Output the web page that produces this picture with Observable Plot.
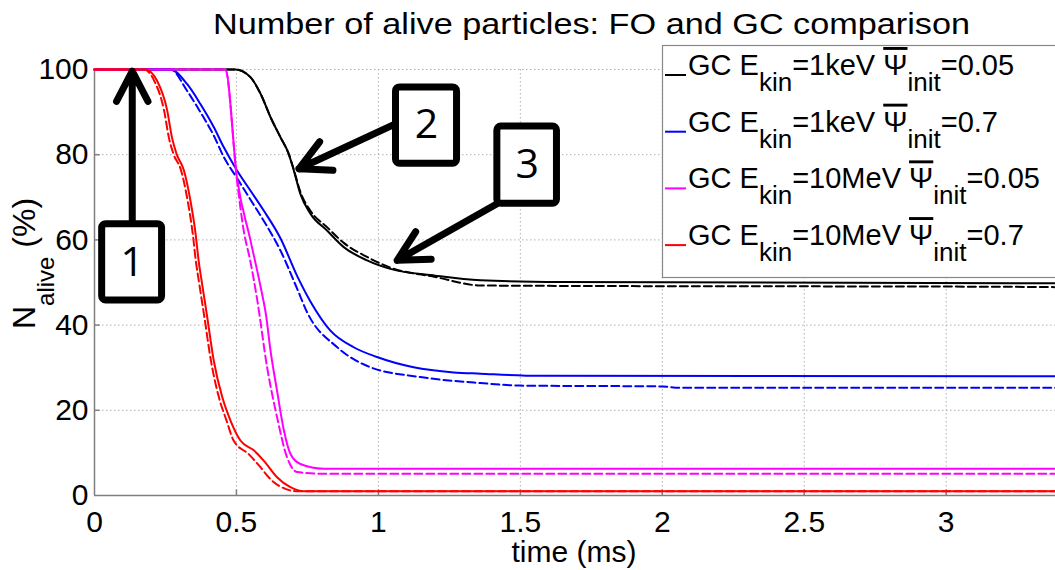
<!DOCTYPE html>
<html><head><meta charset="utf-8">
<script src="https://cdn.jsdelivr.net/npm/d3@7"></script>
<script src="https://cdn.jsdelivr.net/npm/@observablehq/plot@0.6"></script>
<style>
body{margin:0;background:#fff;overflow:hidden}
#wrap{position:relative;width:1055px;height:570px;overflow:hidden}
</style></head>
<body><div id="wrap"></div>
<script>
// ---- axes ----
const xTicks = [0, 0.5, 1, 1.5, 2, 2.5, 3];
const yTicks = [0, 20, 40, 60, 80, 100];
const titleText = "Number of alive particles: FO and GC comparison";
const xLabel = "time (ms)";

// ---- series (legend order) ----
const seriesColors = ["#000000", "#0000ff", "#ff00ff", "#ff0000"];
const seriesEkin = ["1keV", "1keV", "10MeV", "10MeV"];
const seriesPsi = ["0.05", "0.7", "0.05", "0.7"];

// black: GC Ekin=1keV psi=0.05
const blackSolidT = [0, 0.496, 0.549, 0.585, 0.62, 0.655, 0.684, 0.702, 0.725, 0.761, 0.819, 0.878, 0.96, 1.042, 1.2, 1.359, 1.64, 3.4];
const blackSolidV = [100, 100, 98.2, 94.3, 88.8, 84.1, 80.2, 76.3, 70.8, 66.1, 62.2, 58.3, 55.2, 53.2, 51.6, 50.5, 50.1, 49.8];
const blackDashT = [0, 0.496, 0.549, 0.585, 0.62, 0.655, 0.684, 0.702, 0.725, 0.761, 0.819, 0.878, 0.96, 1.042, 1.2, 1.36, 1.64, 3.2, 3.4];
const blackDashV = [100, 100, 98.2, 94.3, 88.8, 84.1, 80.2, 76.5, 71.3, 66.8, 63.0, 59.3, 56.0, 53.5, 51.3, 49.3, 49.2, 49.0, 48.9];
// blue: GC Ekin=1keV psi=0.7
const blueSolidT = [0, 0.268, 0.326, 0.373, 0.42, 0.455, 0.502, 0.549, 0.596, 0.655, 0.714, 0.761, 0.831, 0.913, 0.995, 1.124, 1.265, 1.359, 1.57, 3.4];
const blueSolidV = [100, 100, 96.6, 91.9, 86.5, 81.8, 76.3, 71.6, 66.9, 60.4, 51.5, 45.5, 38.7, 34.8, 32.5, 30.1, 28.9, 28.6, 28.1, 28.0];
const blueDashT = [0, 0.268, 0.326, 0.373, 0.42, 0.455, 0.502, 0.549, 0.596, 0.655, 0.714, 0.749, 0.855, 0.972, 1.148, 1.359, 1.5, 2.0, 2.06, 3.4];
const blueDashV = [100, 100, 95, 90, 84.5, 79.5, 74.5, 69.5, 64.5, 57.5, 48.5, 43.0, 34.8, 30.1, 27.8, 26.4, 25.8, 25.6, 25.3, 25.3];
// magenta: GC Ekin=10MeV psi=0.05
const magSolidT = [0, 0.461, 0.502, 0.549, 0.585, 0.605, 0.62, 0.643, 0.667, 0.69, 0.725, 0.807, 3.4];
const magSolidV = [100, 100, 74.5, 60, 49, 42, 34, 24.6, 15.3, 9.8, 7.4, 6.3, 6.3];
const magDashT = [0, 0.461, 0.502, 0.526, 0.549, 0.573, 0.608, 0.643, 0.678, 0.714, 0.8, 3.4];
const magDashV = [100, 100, 74, 62, 55, 46, 30.1, 18.4, 9, 5.5, 5.1, 5.1];
// red: GC Ekin=10MeV psi=0.7
const redSolidT = [0, 0.18, 0.22, 0.256, 0.273, 0.289, 0.315, 0.338, 0.356, 0.367, 0.379, 0.397, 0.42, 0.45, 0.479, 0.514, 0.561, 0.596, 0.643, 0.69, 0.737, 3.4];
const redSolidV = [100, 100, 97.4, 90.4, 84, 80.2, 76.3, 69.2, 61.5, 55, 49.7, 41.9, 31.7, 23.1, 17.6, 12.9, 10.6, 8.2, 4.3, 1.95, 1.0, 1.0];
const redDashT = [0, 0.175, 0.21, 0.245, 0.262, 0.278, 0.305, 0.328, 0.346, 0.357, 0.369, 0.387, 0.41, 0.438, 0.465, 0.49, 0.545, 0.58, 0.625, 0.675, 0.714, 3.4];
const redDashV = [100, 100, 97.4, 90.4, 84, 80.2, 76.3, 69.2, 61.5, 55, 49.7, 41.9, 31.7, 23.1, 17.6, 12.9, 9.6, 7.0, 3.5, 1.5, 1.0, 1.0];

// ---- annotations (data coordinates) ----
const boxLabels = ["1", "2", "3"];
const boxT1 = [0.027, 1.062, 1.419];
const boxT2 = [0.238, 1.277, 1.629];
const boxV1 = [45.8, 77.9, 68.5];
const boxV2 = [63.7, 95.8, 86.6];
const labelT = [0.133, 1.169, 1.524];
const labelV = [54.6, 86.9, 77.5];
const arrowT1 = [0.133, 1.060, 1.418];
const arrowV1 = [63.7, 87.25, 68.5];
const arrowT2 = [0.133, 0.720, 1.066];
const arrowV2 = [99.6, 76.7, 55.2];

const rows = (T, V) => T.map((t, i) => ({t, v: V[i]}));
const curves = [
  {T: blackDashT, V: blackDashV, c: 0, dash: true}, {T: blackSolidT, V: blackSolidV, c: 0, dash: false},
  {T: blueDashT, V: blueDashV, c: 1, dash: true}, {T: blueSolidT, V: blueSolidV, c: 1, dash: false},
  {T: magDashT, V: magDashV, c: 2, dash: true}, {T: magSolidT, V: magSolidV, c: 2, dash: false},
  {T: redDashT, V: redDashV, c: 3, dash: true}, {T: redSolidT, V: redSolidV, c: 3, dash: false}
];
const boxes = boxLabels.map((l, i) => ({l, x1: boxT1[i], x2: boxT2[i], y1: boxV1[i], y2: boxV2[i], lt: labelT[i], lv: labelV[i]}));
const arrows = arrowT1.map((t, i) => ({x1: t, y1: arrowV1[i], x2: arrowT2[i], y2: arrowV2[i]}));

const axisGray = "#7f7f7f";
const plot = Plot.plot({
  width: 1055, height: 570,
  marginLeft: 94, marginRight: 0, marginTop: 69, marginBottom: 75,
  x: {domain: [0, 3.385]},
  y: {domain: [0, 100]},
  style: {fontFamily: "'Liberation Sans', Arial, sans-serif", fontSize: "30px", color: "#000", background: "#fff", overflow: "visible"},
  marks: [
    Plot.gridX(xTicks.slice(1), {stroke: "#b0b0b0", strokeOpacity: 1, strokeDasharray: "1.5,2.5"}),
    Plot.gridY(yTicks.slice(1), {stroke: "#b0b0b0", strokeOpacity: 1, strokeDasharray: "1.5,2.5"}),
    Plot.ruleX([0], {stroke: axisGray, strokeWidth: 1.5}),
    Plot.ruleY([0], {stroke: axisGray, strokeWidth: 1.5}),
    Plot.ruleX(xTicks.slice(1), {x: d => d, y1: 0, y2: 1.3, stroke: axisGray, strokeWidth: 1.5}),
    Plot.ruleY(yTicks.slice(1), {y: d => d, x1: 0, x2: 0.02, stroke: axisGray, strokeWidth: 1.5}),
    Plot.axisX(xTicks, {tickSize: 0, tickPadding: 15, label: null, tickFormat: d => String(d), fill: "#000"}),
    Plot.axisY(yTicks, {tickSize: 0, tickPadding: 6, label: null, fill: "#000"}),
    ...curves.map(c => Plot.line(rows(c.T, c.V), {
      x: "t", y: "v", stroke: seriesColors[c.c], strokeWidth: 2, curve: "monotone-x",
      strokeDasharray: c.dash ? "8,4" : null
    })),
    Plot.arrow(arrows, {x1: "x1", y1: "y1", x2: "x2", y2: "y2", stroke: "#000", strokeWidth: 7, headLength: 7.3, headAngle: 55, strokeLinecap: "round", strokeLinejoin: "round"}),
    Plot.rect(boxes, {x1: "x1", x2: "x2", y1: "y1", y2: "y2", fill: "#fff", stroke: "#000", strokeWidth: 7, rx: 4}),
    Plot.text(boxes, {x: "lt", y: "lv", text: "l", fontSize: 41, fontFamily: "'Open Sans', sans-serif", fill: "#000"})
  ]
});
document.getElementById("wrap").appendChild(plot);

const svg = d3.select(plot);
const ff = "'Liberation Sans', Arial, sans-serif";
// title
svg.append("text").attr("x", 213).attr("y", 34).attr("text-anchor", "start").attr("font-size", 30).attr("font-family", ff)
  .attr("textLength", 757).attr("lengthAdjust", "spacingAndGlyphs").attr("fill", "#000").text(titleText);
// x label
svg.append("text").attr("x", 574).attr("y", 562).attr("text-anchor", "middle").attr("font-size", 30)
  .attr("font-family", ff).attr("fill", "#000").text(xLabel);
// y label
const yl = svg.append("text").attr("transform", "translate(35,329) rotate(-90)").attr("text-anchor", "start").attr("font-size", 32)
  .attr("font-family", ff).attr("fill", "#000");
yl.append("tspan").text("N");
yl.append("tspan").attr("dy", 19).attr("font-size", 24).text("alive");
yl.append("tspan").attr("dy", -19).text(" (%)");

// legend
const lg = svg.append("g");
lg.append("rect").attr("x", 662.5).attr("y", 45.5).attr("width", 420).attr("height", 232)
  .attr("fill", "#fff").attr("stroke", "#888").attr("stroke-width", 1.2);
seriesColors.forEach((col, i) => {
  const by = 75 + i * 56.7;
  lg.append("line").attr("x1", 665).attr("x2", 686).attr("y1", by).attr("y2", by)
    .attr("stroke", col).attr("stroke-width", 2);
  const t = lg.append("text").attr("x", 688).attr("y", by).attr("text-anchor", "start").attr("font-size", 29)
    .attr("font-family", ff).attr("fill", "#000");
  t.append("tspan").text("GC E");
  t.append("tspan").attr("dy", 16).attr("font-size", 26).text("kin");
  t.append("tspan").attr("dy", -16).text("=" + seriesEkin[i] + " ");
  t.append("tspan").attr("style", "text-decoration: overline").text("\u03A8");
  t.append("tspan").attr("dy", 16).attr("font-size", 26).text("init");
  t.append("tspan").attr("dy", -16).text("=" + seriesPsi[i]);
});
</script></body></html>
